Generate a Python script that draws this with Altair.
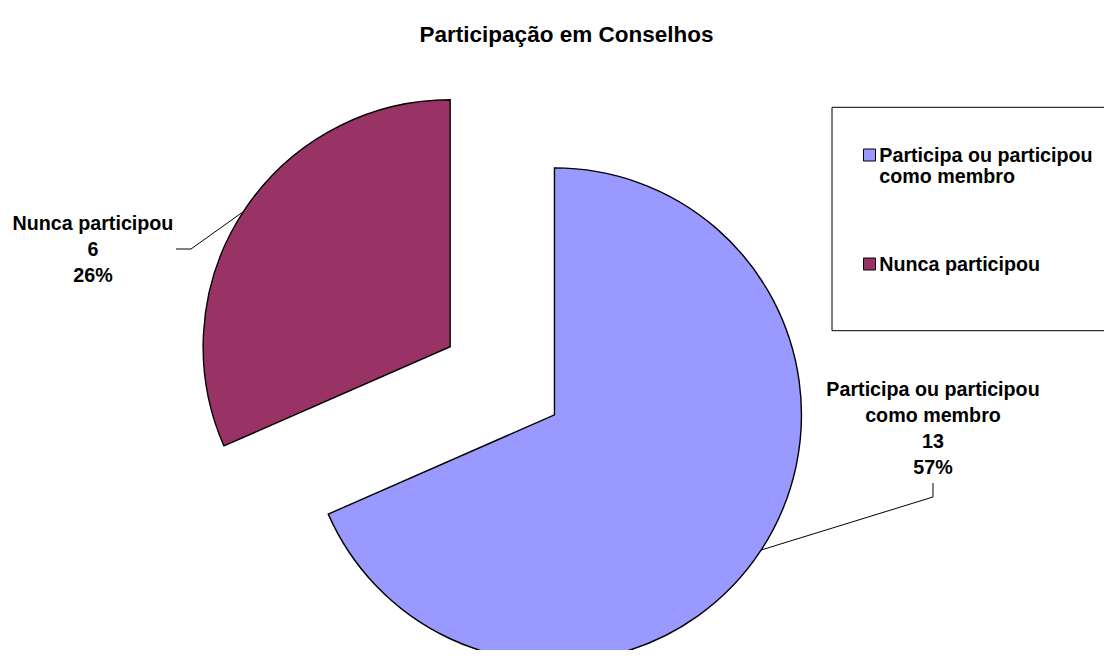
import math
import altair as alt
import pandas as pd

# ---------------- data ----------------
title_text = "Participação em Conselhos"
categories = ["Participa ou participou como membro", "Nunca participou"]
counts = [13, 6]
percent_labels = ["57%", "26%"]
label_lines = [["Participa ou participou", "como membro"], ["Nunca participou"]]
legend_lines = [["Participa ou participou", "como membro"], ["Nunca participou"]]
colors = ["#9999FF", "#993366"]

# ---------------- style ----------------
W, H = 1096, 642
FONT = "Liberation Sans"
PIE_CX, PIE_CY = 494.3, 372.8
RADIUS = 247
EXPLODE = 62.3
LABEL_FONT = 19.7
TITLE_FONT = 22.5
LABEL_POS = [(925, 387.5), (85, 221.5)]            # centre x, first baseline
LEADER_ELBOWS = [[(925, 489), (925, 475)], [(183, 241), (168, 241)]]
TITLE_POS = (558.5, 33.5)
LEGEND_BOX = (824, 1130, 99.3, 322.7)
LEGEND_SQ_X = 861.5
LEGEND_SQ_Y = [147.0, 256.0]
LEGEND_TXT_X = 871.3
LEGEND_BASE_DY = 6.8

total = sum(counts)
rows = []
cum = 0
for cat, c, pct, ll in zip(categories, counts, percent_labels, label_lines):
    start, end = cum, cum + c
    cum = end
    mid = (start + end) / 2 / total * 2 * math.pi
    cx = PIE_CX + EXPLODE * math.sin(mid)
    cy = PIE_CY - EXPLODE * math.cos(mid)
    rows.append(dict(category=cat, count=c, start=start, end=end, mid=mid,
                     cx=cx, cy=cy, label="\n".join(ll + [str(c), pct])))
df = pd.DataFrame(rows)
for i in range(len(df)):
    df.loc[i, "lx"] = LABEL_POS[i][0]
    df.loc[i, "ly"] = LABEL_POS[i][1]

# leader lines: start on the arc at the slice mid-angle
lead_rows = []
for i, r in df.iterrows():
    px = r["cx"] + RADIUS * math.sin(r["mid"])
    py = r["cy"] - RADIUS * math.cos(r["mid"])
    pts = [(px, py)] + LEADER_ELBOWS[i]
    for k, (x, y) in enumerate(pts):
        lead_rows.append(dict(category=r["category"], seq=k, x=x, y=y))
lead_df = pd.DataFrame(lead_rows)

legend_df = pd.DataFrame(dict(
    category=categories,
    text=["\n".join(l) for l in legend_lines],
    sy=LEGEND_SQ_Y,
    ty=[y + LEGEND_BASE_DY for y in LEGEND_SQ_Y],
))

color_scale = alt.Scale(domain=categories, range=colors)

arcs = alt.Chart(df).mark_arc(stroke="black", strokeWidth=1.4, radius=RADIUS).encode(
    theta=alt.Theta("start:Q", scale=alt.Scale(domain=[0, total])),
    theta2="end:Q",
    x=alt.X("cx:Q", scale=None),
    y=alt.Y("cy:Q", scale=None),
    color=alt.Color("category:N", scale=color_scale, legend=None),
)

leaders = alt.Chart(lead_df).mark_line(color="black", strokeWidth=1).encode(
    x=alt.X("x:Q", scale=None),
    y=alt.Y("y:Q", scale=None),
    detail="category:N",
    order=alt.Order("seq:Q"),
)

labels = alt.Chart(df).mark_text(
    align="center", baseline="alphabetic", font=FONT, fontSize=LABEL_FONT,
    fontWeight="bold", lineBreak="\n", lineHeight=26, color="black",
).encode(
    x=alt.X("lx:Q", scale=None),
    y=alt.Y("ly:Q", scale=None),
    text="label:N",
)

title = alt.Chart(pd.DataFrame(dict(t=[title_text]))).mark_text(
    align="center", baseline="alphabetic", font=FONT, fontSize=TITLE_FONT,
    fontWeight="bold", color="black",
).encode(x=alt.value(TITLE_POS[0]), y=alt.value(TITLE_POS[1]), text="t:N")

legend_box = alt.Chart(pd.DataFrame(dict(a=[0]))).mark_rect(
    fill="white", stroke="black", strokeWidth=1,
).encode(
    x=alt.value(LEGEND_BOX[0]), x2=alt.value(LEGEND_BOX[1]),
    y=alt.value(LEGEND_BOX[2]), y2=alt.value(LEGEND_BOX[3]),
)

legend_sq = alt.Chart(legend_df).mark_square(
    size=144, filled=True, opacity=1, stroke="black", strokeWidth=1,
).encode(
    x=alt.value(LEGEND_SQ_X),
    y=alt.Y("sy:Q", scale=None),
    color=alt.Color("category:N", scale=color_scale, legend=None),
)

legend_txt = alt.Chart(legend_df).mark_text(
    align="left", baseline="alphabetic", font=FONT, fontSize=LABEL_FONT,
    fontWeight="bold", lineBreak="\n", lineHeight=21.5, color="black",
).encode(
    x=alt.value(LEGEND_TXT_X),
    y=alt.Y("ty:Q", scale=None),
    text="text:N",
)

chart = alt.layer(arcs, leaders, labels, title, legend_box, legend_sq, legend_txt).properties(
    width=W, height=H, padding=0, autosize=alt.AutoSizeParams(type="none"),
    background="white",
).configure_view(stroke=None)

chart.save("out.html", embed_options={"renderer": "svg", "actions": False})
